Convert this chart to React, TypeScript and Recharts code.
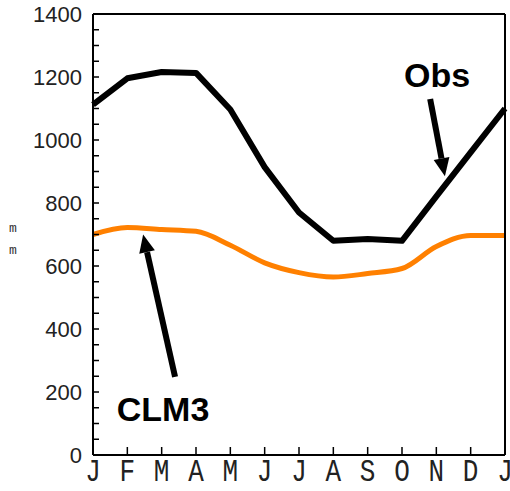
import React from "react";
import { LineChart, Line, XAxis, YAxis, ReferenceLine, ReferenceDot } from "recharts";

const months = ["J", "F", "M", "A", "M", "J", "J", "A", "S", "O", "N", "D", "J"];
const monthPos = [0, 1, 2, 3, 4, 5, 6, 7, 8, 9, 10, 11, 12];
const obs = [1112, 1196, 1216, 1213, 1097, 914, 770, 680, 686, 680, 821, 961, 1100];
const clm3 = [700, 722, 716, 710, 666, 610, 579, 565, 576, 592, 662, 697, 697];
const yTicks = [0, 50, 100, 150, 200, 250, 300, 350, 400, 450, 500, 550, 600, 650, 700, 750, 800, 850, 900, 950, 1000, 1050, 1100, 1150, 1200, 1250, 1300, 1350, 1400];
const yLabels = [0, 200, 400, 600, 800, 1000, 1200, 1400];

const data = monthPos.map((m, i) => ({ m, obs: obs[i], clm3: clm3[i] }));

const axisFont = "'Liberation Sans', Arial, sans-serif";
const monthFont = "'Liberation Mono', 'Courier New', monospace";

// tick lines point into the plot, so labels are drawn by hand
function LeftTick(props: any) {
  const { x, y, payload } = props;
  if (!yLabels.includes(payload.value)) return <g />;
  return (
    <text x={x - 17} y={y + 8} textAnchor="end" fontFamily={axisFont} fontSize={22} fill="#222">
      {payload.value}
    </text>
  );
}

function BottomTick(props: any) {
  const { x, y, payload } = props;
  return (
    <text
      transform={`translate(${x},${y + 34}) scale(1,1.2)`}
      textAnchor="middle"
      fontFamily={monthFont}
      fontSize={26}
      fill="#222"
    >
      {months[payload.value]}
    </text>
  );
}

function Arrow(props: any) {
  const { x1, y1, x2, y2 } = props;
  const a = Math.atan2(y2 - y1, x2 - x1);
  const len = 18;
  const w = 8;
  const bx = x2 - len * Math.cos(a);
  const by = y2 - len * Math.sin(a);
  const px = -Math.sin(a) * w;
  const py = Math.cos(a) * w;
  return (
    <g>
      <line x1={x1} y1={y1} x2={bx} y2={by} stroke="#000" strokeWidth={6} />
      <polygon points={`${x2},${y2} ${bx + px},${by + py} ${bx - px},${by - py}`} fill="#000" />
    </g>
  );
}

function Note(text: string) {
  return (p: any) => (
    <text x={p.cx} y={p.cy} textAnchor="middle" fontFamily={axisFont} fontWeight="bold" fontSize={34} fill="#000">
      {text}
    </text>
  );
}

function UnitLabel(props: any) {
  const { viewBox } = props;
  const x = viewBox.x - 20;
  return (
    <g fontFamily={monthFont} fontSize={13} fill="#333">
      <text x={x} y={232} textAnchor="middle">m</text>
      <text x={x} y={254} textAnchor="middle">m</text>
    </g>
  );
}

const tickStroke = { stroke: "#000", strokeWidth: 1.5 };

export default function App() {
  return (
    <div style={{ position: "absolute", left: 0, top: 0, background: "#fff" }}>
      <LineChart width={510} height={491} data={data} margin={{ top: 13, right: 4, left: 33, bottom: 0 }}>
        <XAxis
          xAxisId="b"
          dataKey="m"
          type="number"
          domain={[0, 12]}
          ticks={monthPos}
          height={36}
          stroke="#000"
          strokeWidth={2}
          tickLine={tickStroke}
          tickSize={-8}
          tickMargin={0}
          tick={<BottomTick />}
          interval={0}
        />
        <XAxis
          xAxisId="t"
          orientation="top"
          dataKey="m"
          type="number"
          domain={[0, 12]}
          ticks={monthPos}
          height={1}
          stroke="#000"
          strokeWidth={2}
          tickLine={tickStroke}
          tickSize={-8}
          tick={false}
          interval={0}
        />
        <YAxis
          yAxisId="l"
          type="number"
          domain={[0, 1400]}
          ticks={yTicks}
          width={60}
          stroke="#000"
          strokeWidth={2}
          tickLine={tickStroke}
          tickSize={-6}
          tickMargin={0}
          tick={<LeftTick />}
          interval={0}
          label={{ content: <UnitLabel /> }}
        />
        <YAxis
          yAxisId="r"
          orientation="right"
          type="number"
          domain={[0, 1400]}
          ticks={yTicks}
          width={1}
          stroke="#000"
          strokeWidth={2}
          tickLine={tickStroke}
          tickSize={-6}
          tick={false}
          interval={0}
        />
        <Line
          xAxisId="t"
          yAxisId="r"
          dataKey="clm3"
          type="monotone"
          stroke="#ff8000"
          strokeWidth={5}
          dot={false}
          isAnimationActive={false}
        />
        <Line
          xAxisId="b"
          yAxisId="l"
          dataKey="obs"
          type="linear"
          stroke="#000"
          strokeWidth={6}
          strokeLinejoin="round"
          dot={false}
          isAnimationActive={false}
        />
        <ReferenceLine
          xAxisId="b"
          yAxisId="l"
          segment={[{ x: 9.82, y: 1130 }, { x: 10.25, y: 885 }]}
          shape={<Arrow />}
        />
        <ReferenceLine
          xAxisId="b"
          yAxisId="l"
          segment={[{ x: 2.39, y: 248 }, { x: 1.46, y: 700 }]}
          shape={<Arrow />}
        />
        <ReferenceDot xAxisId="b" yAxisId="l" x={10.02} y={1168} shape={Note("Obs")} />
        <ReferenceDot xAxisId="b" yAxisId="l" x={2.04} y={108} shape={Note("CLM3")} />
      </LineChart>
    </div>
  );
}
